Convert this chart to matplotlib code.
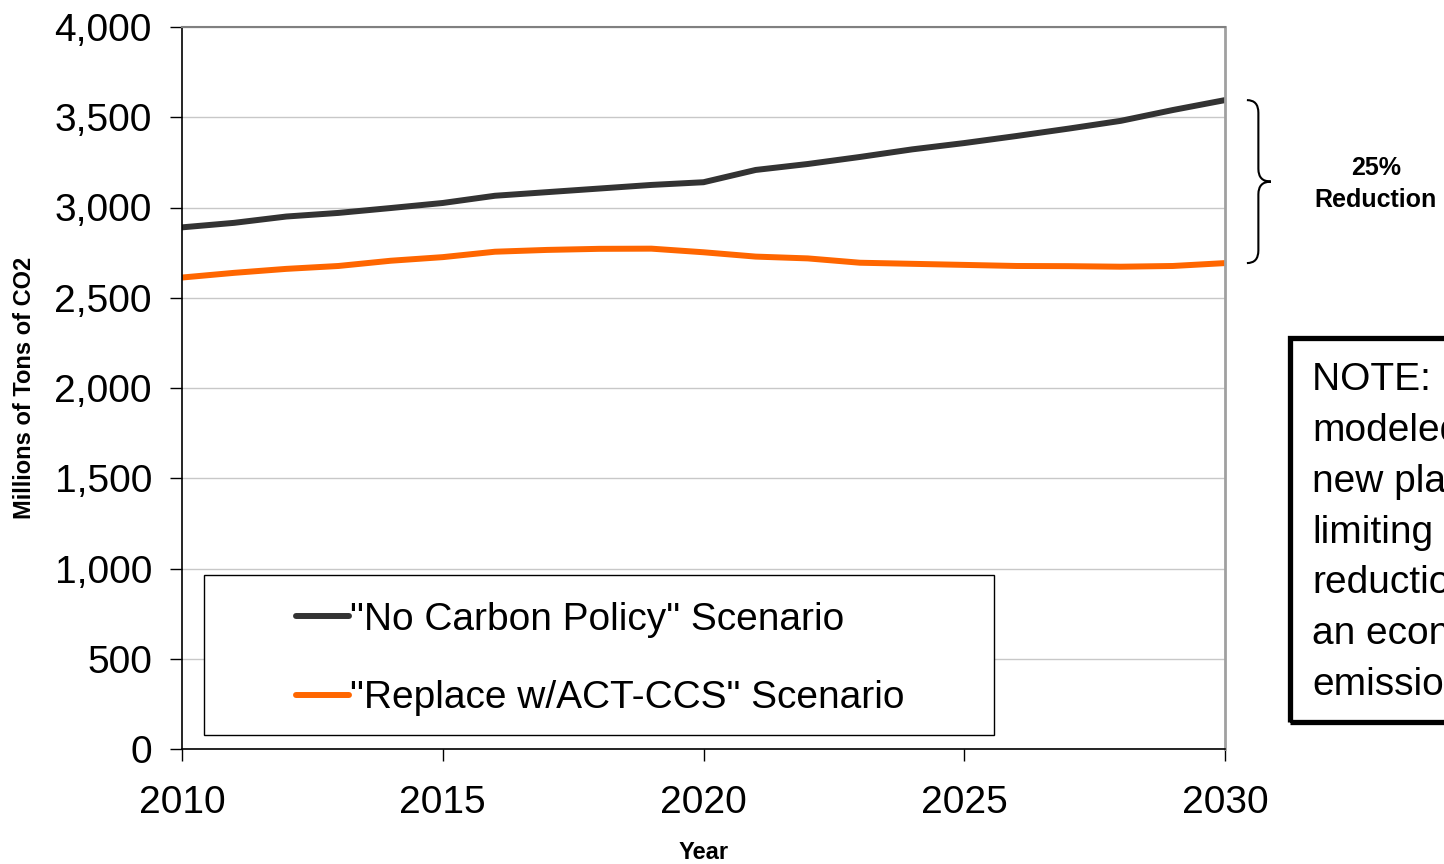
import matplotlib
matplotlib.use("Agg")
import matplotlib.pyplot as plt
from matplotlib.patches import Rectangle, PathPatch
from matplotlib.path import Path
from matplotlib.ticker import StrMethodFormatter
import numpy as np

plt.rcParams['font.family'] = ['Liberation Sans', 'DejaVu Sans']

years = np.arange(2010, 2031)
no_policy = [2890, 2915, 2950, 2970, 2997, 3025, 3065, 3085, 3105, 3125, 3140,
             3208, 3241, 3280, 3322, 3357, 3396, 3437, 3480, 3540, 3595]
act_ccs = [2612, 2638, 2660, 2676, 2705, 2725, 2755, 2765, 2771, 2772, 2752,
           2728, 2718, 2694, 2688, 2682, 2676, 2675, 2672, 2676, 2692]
labels = ['"No Carbon Policy" Scenario', '"Replace w/ACT-CCS" Scenario']
note_lines = ["NOTE:   This", "modeled", "new plants", "limiting",
              "reduction", "an economy", "emissions"]

W, H = 1444, 864
fig = plt.figure(figsize=(W / 100, H / 100), dpi=100)
ax = fig.add_axes([182 / W, 1 - 749 / H, (1225 - 182) / W, (749 - 27) / H])

ax.plot(years, no_policy, color="#333333", lw=4.3, solid_capstyle='round', label=labels[0])
ax.plot(years, act_ccs, color="#FF6600", lw=4.3, solid_capstyle='round', label=labels[1])

ax.set_xlim(2010, 2030)
ax.set_ylim(0, 4000)
ax.set_xticks([2010, 2015, 2020, 2025, 2030])
ax.set_yticks(np.arange(0, 4001, 500))
ax.yaxis.set_major_formatter(StrMethodFormatter('{x:,.0f}'))
ax.grid(axis='y', color="#C8C8C8", lw=1)
ax.set_axisbelow(True)
ax.tick_params(axis='both', direction='out', length=8.6, width=1, labelsize=28)
ax.tick_params(axis='y', pad=13)
ax.tick_params(axis='x', pad=17)
for s in ['left', 'bottom']:
    ax.spines[s].set_color('black')
    ax.spines[s].set_linewidth(1.2)
ax.spines['top'].set_color('#808080')
ax.spines['right'].set_color('#A0A0A0')
ax.spines['top'].set_linewidth(1.5)
ax.spines['right'].set_linewidth(2)

ax.set_ylabel("Millions of Tons of CO2", fontsize=17, fontweight='bold')
ax.yaxis.set_label_coords(-(182 - 36) / 1043, 0.5)
ax.set_xlabel("Year", fontsize=17, fontweight='bold')
ax.xaxis.set_label_coords(0.5, -(841 - 749) / 722)

# legend box
ax.add_patch(Rectangle(((204 - 182) / 1043, (749 - 735) / 722), (994 - 204) / 1043,
                       (735 - 575) / 722, transform=ax.transAxes, fill=True,
                       facecolor='white', edgecolor='black', lw=1, zorder=3))
leg = ax.legend(loc='center left', bbox_to_anchor=((296 - 182) / 1043, (749 - 659) / 722),
                frameon=False, fontsize=28, handlelength=1.35, handletextpad=0.05,
                labelspacing=1.1, borderpad=0, borderaxespad=0)
leg.set_zorder(4)

# brace between series ends
top, bot = no_policy[-1], act_ccs[-1]
mid = (top + bot) / 2
d = 70
x0, xm, xt = 2030.42, 2030.64, 2030.88
verts = [(x0, top), (xm, top), (xm, top - d), (xm, mid + d), (xm, mid), (xt, mid),
         (xm, mid), (xm, mid - d), (xm, bot + d), (xm, bot), (x0, bot)]
codes = [Path.MOVETO, Path.CURVE3, Path.CURVE3, Path.LINETO, Path.CURVE3, Path.CURVE3,
         Path.CURVE3, Path.CURVE3, Path.LINETO, Path.CURVE3, Path.CURVE3]
ax.add_patch(PathPatch(Path(verts, codes), fill=False, lw=1.5, edgecolor='black', clip_on=False))
fig.text(1376 / W, 1 - 184 / H, "25%\nReduction", ha='center', va='center',
         fontsize=18, fontweight='bold', linespacing=1.4)

# note box, runs off the right edge
fig.add_artist(Rectangle((1290 / W, 1 - 722 / H), 0.2, (722 - 338) / H,
                         transform=fig.transFigure, fill=False, lw=3.8, edgecolor='black'))
fig.text(1312 / W, 1 - 362 / H, "\n".join(note_lines), ha='left', va='top',
         fontsize=28, linespacing=1.53)

fig.savefig("out.png", dpi=100)
